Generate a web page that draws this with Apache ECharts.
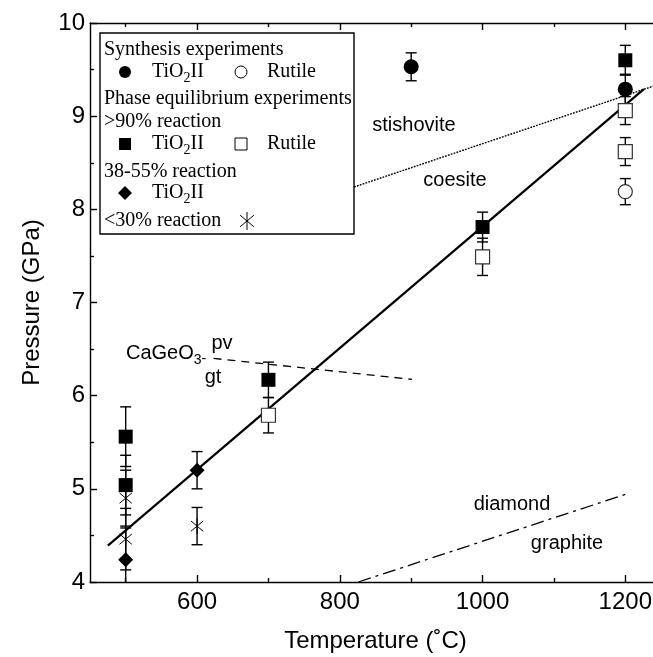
<!DOCTYPE html>
<html><head><meta charset="utf-8">
<script src="https://cdn.jsdelivr.net/npm/echarts@6/dist/echarts.min.js"></script>
<style>html,body{margin:0;padding:0;background:#fff}#c{width:653px;height:657px}</style>
</head><body><div id="c"></div>
<script>
// ---- tick / label values ----
const xMajorTicks = [600, 800, 1000, 1200];
const xMinorTicks = [500, 700, 900, 1100];
const xLabels = [600, 800, 1000, 1200];
const yLabels = [4, 5, 6, 7, 8, 9, 10];
const yMinorTicks = [4.5, 5.5, 6.5, 7.5, 8.5, 9.5];

// ---- data: [temperature C], [pressure GPa], [error GPa] ----
const synthTiO2T = [900, 1200];
const synthTiO2P = [9.53, 9.29];
const synthTiO2E = [0.15, 0.16];
const synthRutT = [1200];
const synthRutP = [8.19];
const synthRutE = [0.14];
const eqTiO2T = [500, 500, 700, 1000, 1200];
const eqTiO2P = [5.56, 5.04, 6.17, 7.81, 9.60];
const eqTiO2E = [0.32, 0.32, 0.19, 0.16, 0.16];
const eqRutT = [700, 1000, 1200, 1200];
const eqRutP = [5.79, 7.49, 9.06, 8.62];
const eqRutE = [0.19, 0.20, 0.15, 0.15];
const partT = [500, 600];
const partP = [4.24, 5.20];
const partE = [0.34, 0.20];
const lowT = [500, 500, 600];
const lowP = [4.90, 4.46, 4.60];
const lowE = [0.30, 0.33, 0.20];

// ---- phase boundary lines ----
const reactionT = [475, 1226];
const reactionP = [4.39, 9.29];
const stishT = [820, 1250];
const stishP = [8.24, 9.35];
const cageoT = [623, 901];
const cageoP = [6.40, 6.175];
const diamT = [826, 1200];
const diamP = [4.0, 4.94];

function zip3(a, b, c) { return a.map((v, i) => [v, b[i], c[i]]); }
function zip2(a, b) { return a.map((v, i) => [v, b[i]]); }

const SANS = '"Liberation Sans", Arial, sans-serif';
const SERIF = '"Liberation Serif", "Times New Roman", serif';

const chart = echarts.init(document.getElementById('c'), null, {renderer: 'canvas'});

function errItem(params, api) {
  const x = api.value(0), y = api.value(1), e = api.value(2);
  const t = api.coord([x, y + e]), b = api.coord([x, y - e]);
  const hw = 5.5, st = {stroke: '#000', lineWidth: 1.4};
  return {type: 'group', children: [
    {type: 'line', shape: {x1: t[0], y1: t[1], x2: b[0], y2: b[1]}, style: st},
    {type: 'line', shape: {x1: t[0] - hw, y1: t[1], x2: t[0] + hw, y2: t[1]}, style: st},
    {type: 'line', shape: {x1: b[0] - hw, y1: b[1], x2: b[0] + hw, y2: b[1]}, style: st}
  ]};
}
function asteriskShapes(cx, cy, r, lw) {
  const a = 40 * Math.PI / 180, dx = r * Math.cos(a), dy = r * Math.sin(a);
  const st = {stroke: '#000', lineWidth: lw};
  return [
    {type: 'line', shape: {x1: cx, y1: cy - r, x2: cx, y2: cy + r}, style: st},
    {type: 'line', shape: {x1: cx - dx, y1: cy - dy, x2: cx + dx, y2: cy + dy}, style: st},
    {type: 'line', shape: {x1: cx - dx, y1: cy + dy, x2: cx + dx, y2: cy - dy}, style: st}
  ];
}
function astItem(params, api) {
  const p = api.coord([api.value(0), api.value(1)]);
  return {type: 'group', children: asteriskShapes(p[0], p[1], 8, 1)};
}

function errSeries(T, P, E) {
  return {type: 'custom', renderItem: errItem, data: zip3(T, P, E), clip: true, z: 3,
          encode: {x: 0, y: 1}, silent: true};
}
function lineSeries(T, P, style) {
  return {type: 'line', data: zip2(T, P), symbol: 'none', z: 2, silent: true,
          lineStyle: Object.assign({color: '#000'}, style)};
}

const axisLineStyle = {color: '#000', width: 1.4};
const plain = v => String(v);

// ---- legend (graphic) ----
const meas = document.createElement('canvas').getContext('2d');
function tw(text, size, fam) { meas.font = size + 'px ' + fam; return meas.measureText(text).width; }
const LF = 20;
function legText(x, y, s) {
  return {type: 'text', x: x, y: y, style: {text: s, font: LF + 'px ' + SERIF, fill: '#000', textVerticalAlign: 'middle'}};
}
function tio2(x, y) {
  const w1 = tw('TiO', LF, SERIF), w2 = tw('2', 14, SERIF);
  return [
    legText(x, y, 'TiO'),
    {type: 'text', x: x + w1, y: y + 6, style: {text: '2', font: '14px ' + SERIF, fill: '#000', textVerticalAlign: 'middle'}},
    legText(x + w1 + w2, y, 'II')
  ];
}
const legendEls = [
  {type: 'rect', shape: {x: 100, y: 33, width: 254, height: 201}, style: {fill: '#fff', stroke: '#000', lineWidth: 1.4}},
  legText(104, 50, 'Synthesis experiments'),
  {type: 'circle', shape: {cx: 125, cy: 72, r: 6}, style: {fill: '#000'}},
  ...tio2(152, 72),
  {type: 'circle', shape: {cx: 241, cy: 72, r: 6}, style: {fill: '#fff', stroke: '#000', lineWidth: 1}},
  legText(267, 72, 'Rutile'),
  legText(104, 99, 'Phase equilibrium experiments'),
  legText(104, 122, '>90% reaction'),
  {type: 'rect', shape: {x: 119, y: 138, width: 12, height: 12}, style: {fill: '#000'}},
  ...tio2(152, 144),
  {type: 'rect', shape: {x: 235, y: 138, width: 12, height: 12}, style: {fill: '#fff', stroke: '#000', lineWidth: 1}},
  legText(267, 144, 'Rutile'),
  legText(104, 172, '38-55% reaction'),
  {type: 'polygon', shape: {points: [[125, 186], [132, 193], [125, 200], [118, 193]]}, style: {fill: '#000'}},
  ...tio2(152, 193),
  legText(104, 221, '<30% reaction'),
  ...asteriskShapes(247, 221, 9, 1)
];

// ---- annotation text ----
function ann(x, y, s, size) {
  return {type: 'text', x: x, y: y, style: {text: s, font: (size || 20) + 'px ' + SANS, fill: '#000', textAlign: 'center', textVerticalAlign: 'middle'}};
}
const wCa = tw('CaGeO', 20, SANS), w3 = tw('3', 14, SANS);
const annEls = [
  ann(414, 125, 'stishovite'),
  ann(455, 180, 'coesite'),
  ann(512, 504, 'diamond'),
  ann(567, 543, 'graphite'),
  {type: 'text', x: 126, y: 353, style: {text: 'CaGeO', font: '20px ' + SANS, fill: '#000', textVerticalAlign: 'middle'}},
  {type: 'text', x: 126 + wCa, y: 360, style: {text: '3', font: '14px ' + SANS, fill: '#000', textVerticalAlign: 'middle'}},
  {type: 'text', x: 126 + wCa + w3, y: 359, style: {text: '-', font: '14px ' + SANS, fill: '#000', textVerticalAlign: 'middle'}},
  ann(222, 343, 'pv'),
  ann(213, 377, 'gt')
];

function tickOnlyX(pos, ticks, len, showLine) {
  return {type: 'value', min: 450, max: 1250, position: pos,
    axisLine: {show: showLine, onZero: false, lineStyle: axisLineStyle},
    axisTick: {show: true, inside: true, length: len, customValues: ticks, lineStyle: axisLineStyle},
    axisLabel: {show: false}, splitLine: {show: false}};
}

const option = {
  animation: false,
  backgroundColor: '#fff',
  grid: {left: 90, top: 23, width: 571, height: 559, containLabel: false, outerBoundsMode: 'none'},
  xAxis: [
    {type: 'value', min: 450, max: 1250, position: 'bottom',
     name: 'Temperature (˚C)', nameLocation: 'middle', nameGap: 47,
     nameTextStyle: {fontSize: 24, fontFamily: SANS, color: '#000'},
     axisLine: {show: true, onZero: false, lineStyle: axisLineStyle},
     axisTick: {show: true, inside: true, length: 7, customValues: xMajorTicks, lineStyle: axisLineStyle},
     axisLabel: {show: true, customValues: xLabels, formatter: plain, fontSize: 24, fontFamily: SANS, color: '#000', margin: 8},
     splitLine: {show: false}},
    tickOnlyX('bottom', xMinorTicks, 4, false),
    tickOnlyX('top', xMajorTicks, 7, true),
    tickOnlyX('top', xMinorTicks, 4, false)
  ],
  yAxis: [
    {type: 'value', min: 4, max: 10, interval: 1, position: 'left',
     name: 'Pressure (GPa)', nameLocation: 'middle', nameGap: 46,
     nameTextStyle: {fontSize: 24, fontFamily: SANS, color: '#000'},
     axisLine: {show: true, onZero: false, lineStyle: axisLineStyle},
     axisTick: {show: true, inside: true, length: 7, customValues: yLabels, lineStyle: axisLineStyle},
     axisLabel: {show: true, customValues: yLabels, formatter: plain, fontSize: 24, fontFamily: SANS, color: '#000', margin: 5},
     splitLine: {show: false}},
    {type: 'value', min: 4, max: 10, position: 'left',
     axisLine: {show: false, onZero: false},
     axisTick: {show: true, inside: true, length: 4, customValues: yMinorTicks, lineStyle: axisLineStyle},
     axisLabel: {show: false}, splitLine: {show: false}}
  ],
  series: [
    lineSeries(reactionT, reactionP, {width: 2.2, type: 'solid'}),
    lineSeries(stishT, stishP, {width: 1.4, type: [1.8, 1.2]}),
    lineSeries(cageoT, cageoP, {width: 1.3, type: [8, 6]}),
    lineSeries(diamT, diamP, {width: 1.3, type: [13, 5, 3, 5]}),
    errSeries(synthTiO2T, synthTiO2P, synthTiO2E),
    errSeries(synthRutT, synthRutP, synthRutE),
    errSeries(eqTiO2T, eqTiO2P, eqTiO2E),
    errSeries(eqRutT, eqRutP, eqRutE),
    errSeries(partT, partP, partE),
    errSeries(lowT, lowP, lowE),
    {type: 'custom', renderItem: astItem, data: zip2(lowT, lowP), z: 4, encode: {x: 0, y: 1}, silent: true},
    {type: 'scatter', data: zip2(eqRutT, eqRutP), symbol: 'rect', symbolSize: 14, z: 4,
     itemStyle: {color: '#fff', borderColor: '#333', borderWidth: 1.2, opacity: 1}},
    {type: 'scatter', data: zip2(synthRutT, synthRutP), symbol: 'circle', symbolSize: 14, z: 4,
     itemStyle: {color: '#fff', borderColor: '#333', borderWidth: 1.2, opacity: 1}},
    {type: 'scatter', data: zip2(eqTiO2T, eqTiO2P), symbol: 'rect', symbolSize: 14, z: 5,
     itemStyle: {color: '#000', opacity: 1}},
    {type: 'scatter', data: zip2(synthTiO2T, synthTiO2P), symbol: 'circle', symbolSize: 15, z: 5,
     itemStyle: {color: '#000', opacity: 1}},
    {type: 'scatter', data: zip2(partT, partP), symbol: 'diamond', symbolSize: 15, z: 5,
     itemStyle: {color: '#000', opacity: 1}}
  ],
  graphic: [
    {type: 'group', z: 100, children: legendEls},
    {type: 'group', z: 90, children: annEls}
  ]
};
chart.setOption(option);
</script></body></html>
